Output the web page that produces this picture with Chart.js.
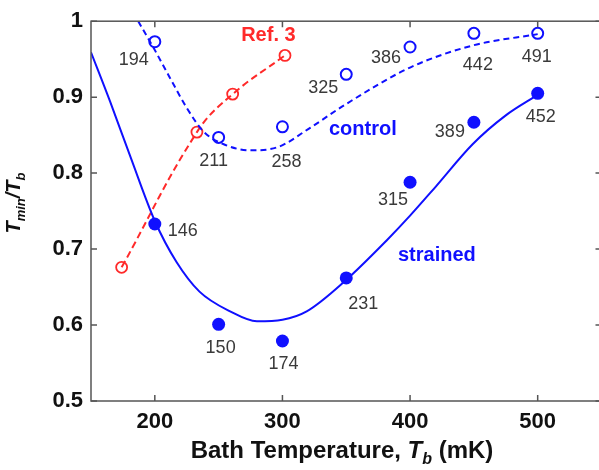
<!DOCTYPE html>
<html>
<head>
<meta charset="utf-8">
<script src="https://cdn.jsdelivr.net/npm/chart.js@4"></script>
<style>
  html, body { margin: 0; padding: 0; background: #fff; overflow: hidden; }
  #wrap { width: 609px; height: 470px; }
</style>
</head>
<body>
<div id="wrap"><canvas id="chart" width="609" height="470"></canvas></div>
<script>
// axis ticks
const xTicks = [200, 300, 400, 500];
const yTicks = [0.5, 0.6, 0.7, 0.8, 0.9, 1];

// measured points (bath temperature in mK, Tmin/Tb)
const bathT = [200, 250, 300, 350, 400, 450, 500];
const controlRatio = [0.973, 0.847, 0.861, 0.930, 0.966, 0.984, 0.984];
const controlLabels = ["194", "211", "258", "325", "386", "442", "491"];
const strainedRatio = [0.733, 0.601, 0.579, 0.662, 0.788, 0.867, 0.905];
const strainedLabels = ["146", "150", "174", "231", "315", "389", "452"];

// Ref. 3 points
const ref3T = [174, 233, 261, 302];
const ref3Ratio = [0.676, 0.854, 0.904, 0.955];

// fit curves
const controlFitT = [187, 199, 212, 225, 238, 254, 275, 296, 322, 349, 400, 449, 500];
const controlFitRatio = [1.0, 0.965, 0.925, 0.886, 0.855, 0.838, 0.830, 0.834, 0.86, 0.89, 0.939, 0.968, 0.983];
const strainedFitT = [150, 165, 181, 200, 217, 235, 259, 280, 300, 319, 349, 382, 400, 420, 449, 475, 500];
const strainedFitRatio = [0.959, 0.894, 0.821, 0.737, 0.683, 0.644, 0.618, 0.605, 0.607, 0.618, 0.658, 0.712, 0.744, 0.782, 0.838, 0.876, 0.903];

const BLUE = "#1010ff";
const RED = "#ff2a2a";
const FONT = "'Liberation Sans', Arial, sans-serif";

function pts(xs, ys) {
    return xs.map((x, i) => ({ x: x, y: ys[i] }));
}

// label offsets in px from the marker centre
const controlOffsets = [[-21, 18], [-5, 24], [4, 35], [-23, 14], [-24, 11], [4, 32], [-1, 24]];
const strainedOffsets = [[28, 7], [2, 24], [1, 23], [17, 26], [-17, 18], [-24, 10], [3, 24]];

const decorPlugin = {
    id: "decor",
    afterDraw(chart) {
        const ctx = chart.ctx;
        const a = chart.chartArea;
        const xs = chart.scales.x;
        const ys = chart.scales.y;
        ctx.save();

        // frame + inward ticks
        ctx.strokeStyle = "#555";
        ctx.lineWidth = 1.5;
        ctx.strokeRect(a.left, a.top, a.right - a.left, a.bottom - a.top);
        ctx.beginPath();
        xTicks.forEach(v => {
            const px = xs.getPixelForValue(v);
            ctx.moveTo(px, a.bottom); ctx.lineTo(px, a.bottom - 6);
            ctx.moveTo(px, a.top); ctx.lineTo(px, a.top + 6);
        });
        yTicks.forEach(v => {
            const py = ys.getPixelForValue(v);
            ctx.moveTo(a.left, py); ctx.lineTo(a.left + 6, py);
            ctx.moveTo(a.right, py); ctx.lineTo(a.right - 6, py);
        });
        ctx.stroke();

        // point labels
        ctx.fillStyle = "#3a3a3a";
        ctx.font = "18px " + FONT;
        ctx.textAlign = "center";
        ctx.textBaseline = "middle";
        bathT.forEach((t, i) => {
            let px = xs.getPixelForValue(t);
            let py = ys.getPixelForValue(controlRatio[i]);
            ctx.fillText(controlLabels[i], px + controlOffsets[i][0], py + controlOffsets[i][1]);
            py = ys.getPixelForValue(strainedRatio[i]);
            ctx.fillText(strainedLabels[i], px + strainedOffsets[i][0], py + strainedOffsets[i][1]);
        });

        // series names
        ctx.font = "bold 20px " + FONT;
        ctx.fillStyle = RED;
        ctx.fillText("Ref. 3", xs.getPixelForValue(289), ys.getPixelForValue(0.981));
        ctx.fillStyle = BLUE;
        ctx.fillText("control", xs.getPixelForValue(363), ys.getPixelForValue(0.857));
        ctx.fillText("strained", xs.getPixelForValue(421), ys.getPixelForValue(0.692));

        // x axis title
        ctx.fillStyle = "#111";
        ctx.textBaseline = "alphabetic";
        ctx.textAlign = "left";
        const big = "bold 24px " + FONT;
        const bigIt = "italic bold 24px " + FONT;
        const sub = "italic bold 16px " + FONT;
        const parts = [
            ["Bath Temperature, ", big, 0],
            ["T", bigIt, 0],
            ["b", sub, 6],
            [" (mK)", big, 0]
        ];
        let total = 0;
        parts.forEach(p => { ctx.font = p[1]; total += ctx.measureText(p[0]).width; });
        let x = 342 - total / 2;
        parts.forEach(p => {
            ctx.font = p[1];
            ctx.fillText(p[0], x, 458 + p[2]);
            x += ctx.measureText(p[0]).width;
        });

        // y axis title
        const yBig = "italic bold 20px " + FONT;
        const ySub = "italic bold 13px " + FONT;
        ctx.translate(20, 203);
        ctx.rotate(-Math.PI / 2);
        const yparts = [
            ["T", yBig, 0],
            ["min", ySub, 5],
            ["/", yBig, 0],
            ["T", yBig, 0],
            ["b", ySub, 5]
        ];
        total = 0;
        yparts.forEach(p => { ctx.font = p[1]; total += ctx.measureText(p[0]).width; });
        x = -total / 2;
        yparts.forEach(p => {
            ctx.font = p[1];
            ctx.fillText(p[0], x, p[2]);
            x += ctx.measureText(p[0]).width;
        });
        ctx.restore();
    }
};

new Chart(document.getElementById("chart"), {
    type: "scatter",
    data: {
        datasets: [
            {
                label: "strained fit",
                data: pts(strainedFitT, strainedFitRatio),
                showLine: true,
                cubicInterpolationMode: "monotone",
                borderColor: BLUE,
                borderWidth: 2,
                pointRadius: 0
            },
            {
                label: "control fit",
                data: pts(controlFitT, controlFitRatio),
                showLine: true,
                cubicInterpolationMode: "monotone",
                borderColor: BLUE,
                borderWidth: 2,
                borderDash: [6, 4],
                pointRadius: 0
            },
            {
                label: "Ref. 3",
                data: pts(ref3T, ref3Ratio),
                showLine: true,
                tension: 0.4,
                borderColor: RED,
                borderWidth: 2,
                borderDash: [7, 4],
                pointRadius: 5.5,
                pointBorderWidth: 1.8,
                pointBackgroundColor: "rgba(0,0,0,0)",
                pointBorderColor: RED
            },
            {
                label: "control",
                data: pts(bathT, controlRatio),
                showLine: false,
                pointRadius: 5.5,
                pointBorderWidth: 2,
                pointBackgroundColor: "#fff",
                pointBorderColor: BLUE
            },
            {
                label: "strained",
                data: pts(bathT, strainedRatio),
                showLine: false,
                pointRadius: 6.5,
                pointBorderWidth: 0,
                pointBackgroundColor: BLUE,
                pointBorderColor: BLUE
            }
        ]
    },
    options: {
        responsive: false,
        animation: false,
        layout: { padding: { top: 15, right: 0, left: 0, bottom: 0 } },
        plugins: {
            legend: { display: false },
            tooltip: { enabled: false }
        },
        scales: {
            x: {
                type: "linear",
                min: 150,
                max: 550,
                grid: { display: false, drawTicks: false },
                border: { display: false },
                afterBuildTicks: s => { s.ticks = xTicks.map(v => ({ value: v })); },
                afterFit: s => { s.height = 69; },
                ticks: {
                    padding: 8,
                    color: "#111",
                    font: { family: FONT, size: 22, weight: "bold" }
                }
            },
            y: {
                type: "linear",
                min: 0.5,
                max: 1,
                grid: { display: false, drawTicks: false },
                border: { display: false },
                afterBuildTicks: s => { s.ticks = yTicks.map(v => ({ value: v })); },
                afterFit: s => { s.width = 91; },
                ticks: {
                    padding: 8,
                    color: "#111",
                    font: { family: FONT, size: 22, weight: "bold" },
                    callback: v => (v === 1 ? "1" : v.toFixed(1))
                }
            }
        }
    },
    plugins: [decorPlugin]
});
</script>
</body>
</html>
